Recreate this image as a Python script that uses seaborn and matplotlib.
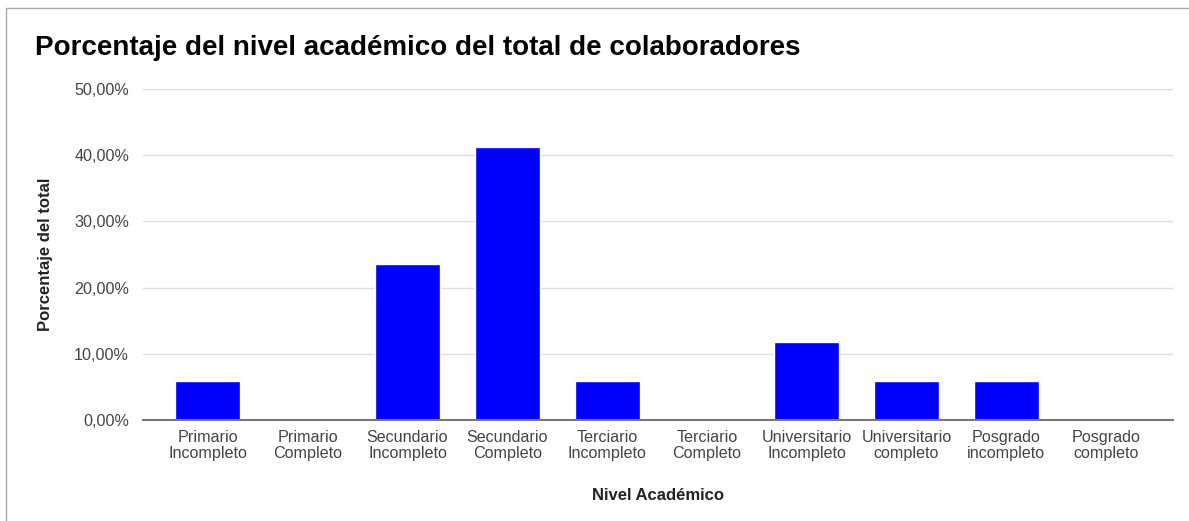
import matplotlib
matplotlib.use("Agg")
import matplotlib.pyplot as plt
import seaborn as sns
import pandas as pd
from matplotlib.patches import Rectangle
from matplotlib.ticker import FuncFormatter

categories = ["Primario\nIncompleto", "Primario\nCompleto", "Secundario\nIncompleto",
              "Secundario\nCompleto", "Terciario\nIncompleto", "Terciario\nCompleto",
              "Universitario\nIncompleto", "Universitario\ncompleto", "Posgrado\nincompleto",
              "Posgrado\ncompleto"]
values = [5.88, 0.0, 23.53, 41.18, 5.88, 0.0, 11.76, 5.88, 5.88, 0.0]
yticks = [0, 10, 20, 30, 40, 50]

df = pd.DataFrame({"cat": categories, "val": values})

sns.set_theme(style="white")
plt.rcParams["font.family"] = ["Liberation Sans", "DejaVu Sans"]

fig = plt.figure(figsize=(11.89, 5.21), dpi=100)
ax = fig.add_axes([143/1189, 1-420/521, (1173-143)/1189, (420-89)/521])

sns.barplot(data=df, x="cat", y="val", color="#0000ff", saturation=1, width=0.65, ax=ax, zorder=3)

ax.set_xlim(-0.65, 9.67)
ax.set_ylim(0, 50)
ax.set_yticks(yticks)
ax.yaxis.set_major_formatter(FuncFormatter(lambda v, p: f"{v:.2f}".replace(".", ",") + "%"))
ax.grid(axis="y", color="#dddddd", linewidth=1, zorder=0)
ax.grid(axis="x", visible=False)
for s in ["top", "right", "left"]:
    ax.spines[s].set_visible(False)
ax.spines["bottom"].set_color("#777777")
ax.spines["bottom"].set_linewidth(1.5)
ax.spines["bottom"].set_zorder(4)
ax.tick_params(axis="both", length=0, labelcolor="#444444")
ax.tick_params(axis="x", pad=7, labelsize=11.6)
ax.tick_params(axis="y", pad=10, labelsize=11.6)
for t in ax.get_xticklabels():
    t.set_linespacing(1.08)
ax.set_xlabel("Nivel Académico", fontsize=12, fontweight="bold", color="#222222", labelpad=20)
ax.set_ylabel("Porcentaje del total", fontsize=12, fontweight="bold", color="#222222", labelpad=15)

fig.text(35/1189, 1-48/521, "Porcentaje del nivel académico del total de colaboradores",
         fontsize=20, fontweight="bold", color="#000000", va="center", ha="left")

fig.patches.append(Rectangle((6/1189, -0.1), 1.2, 1-8/521+0.1, transform=fig.transFigure,
                             fill=False, edgecolor="#aaaaaa", linewidth=1))

fig.savefig("out.png", dpi=100, facecolor="white")
